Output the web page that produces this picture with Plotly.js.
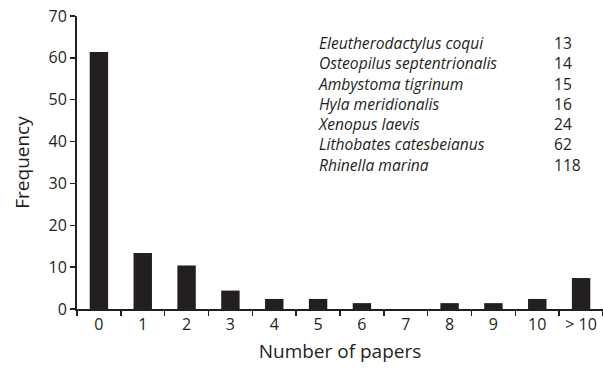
<!DOCTYPE html>
<html>
<head>
<meta charset="utf-8">
<script src="https://cdn.plot.ly/plotly-3.0.1.min.js"></script>
<style>html,body{margin:0;padding:0;background:#fff;}#chart{width:603px;height:370px;}</style>
</head>
<body>
<div id="chart"></div>
<script>
const categories = ["0", "1", "2", "3", "4", "5", "6", "7", "8", "9", "10", "> 10"];
const frequency = [61.4, 13.4, 10.4, 4.4, 2.4, 2.4, 1.4, 0, 1.4, 1.4, 2.4, 7.4];
const species = ["Eleutherodactylus coqui", "Osteopilus septentrionalis", "Ambystoma tigrinum",
  "Hyla meridionalis", "Xenopus laevis", "Lithobates catesbeianus", "Rhinella marina"];
const speciesPapers = [13, 14, 15, 16, 24, 62, 118];

const FONT = "Open Sans, Noto Sans, sans-serif";
const ink = "#231f20";

const annotations = [
  {xref: "paper", yref: "paper", x: 0.4544, y: 0.6997, xanchor: "left", yanchor: "middle", align: "left",
    text: species.map(s => "<i>" + s + "</i>").join("<br>"), showarrow: false,
    font: {family: FONT, size: 15.6, color: ink}},
  {xref: "paper", yref: "paper", x: 0.903, y: 0.6997, xanchor: "left", yanchor: "middle", align: "left",
    text: speciesPapers.map(String).join("<br>"), showarrow: false,
    font: {family: FONT, size: 15.6, color: ink}}
];

const trace = {
  type: "bar", x: categories, y: frequency,
  marker: {color: ink, line: {width: 0}},
  width: 0.42, hoverinfo: "skip"
};

const layout = {
  width: 603, height: 370,
  margin: {l: 77, r: 0, t: 16, b: 61, pad: 0},
  paper_bgcolor: "#fff", plot_bgcolor: "#fff",
  showlegend: false,
  font: {family: FONT, size: 16, color: ink},
  bargap: 0.58,
  xaxis: {
    type: "category", range: [-0.5, 11.5],
    tickson: "boundaries", ticks: "outside", ticklen: 5, tickwidth: 1.5, tickcolor: ink,
    showline: true, linecolor: ink, linewidth: 2, showgrid: false, zeroline: false,
    tickfont: {family: FONT, size: 16, color: ink},
    title: {text: "Number of papers", font: {family: FONT, size: 19, color: ink}, standoff: 10}
  },
  yaxis: {
    range: [0, 70], tickvals: [0, 10, 20, 30, 40, 50, 60, 70],
    ticks: "outside", ticklen: 5, tickwidth: 1.5, tickcolor: ink,
    showline: true, linecolor: ink, linewidth: 2, showgrid: false, zeroline: false,
    tickfont: {family: FONT, size: 16, color: ink},
    title: {text: "Frequency", font: {family: FONT, size: 19, color: ink}, standoff: 14}
  },
  annotations: annotations
};

Plotly.newPlot("chart", [trace], layout, {staticPlot: true, displayModeBar: false});
</script>
</body>
</html>
